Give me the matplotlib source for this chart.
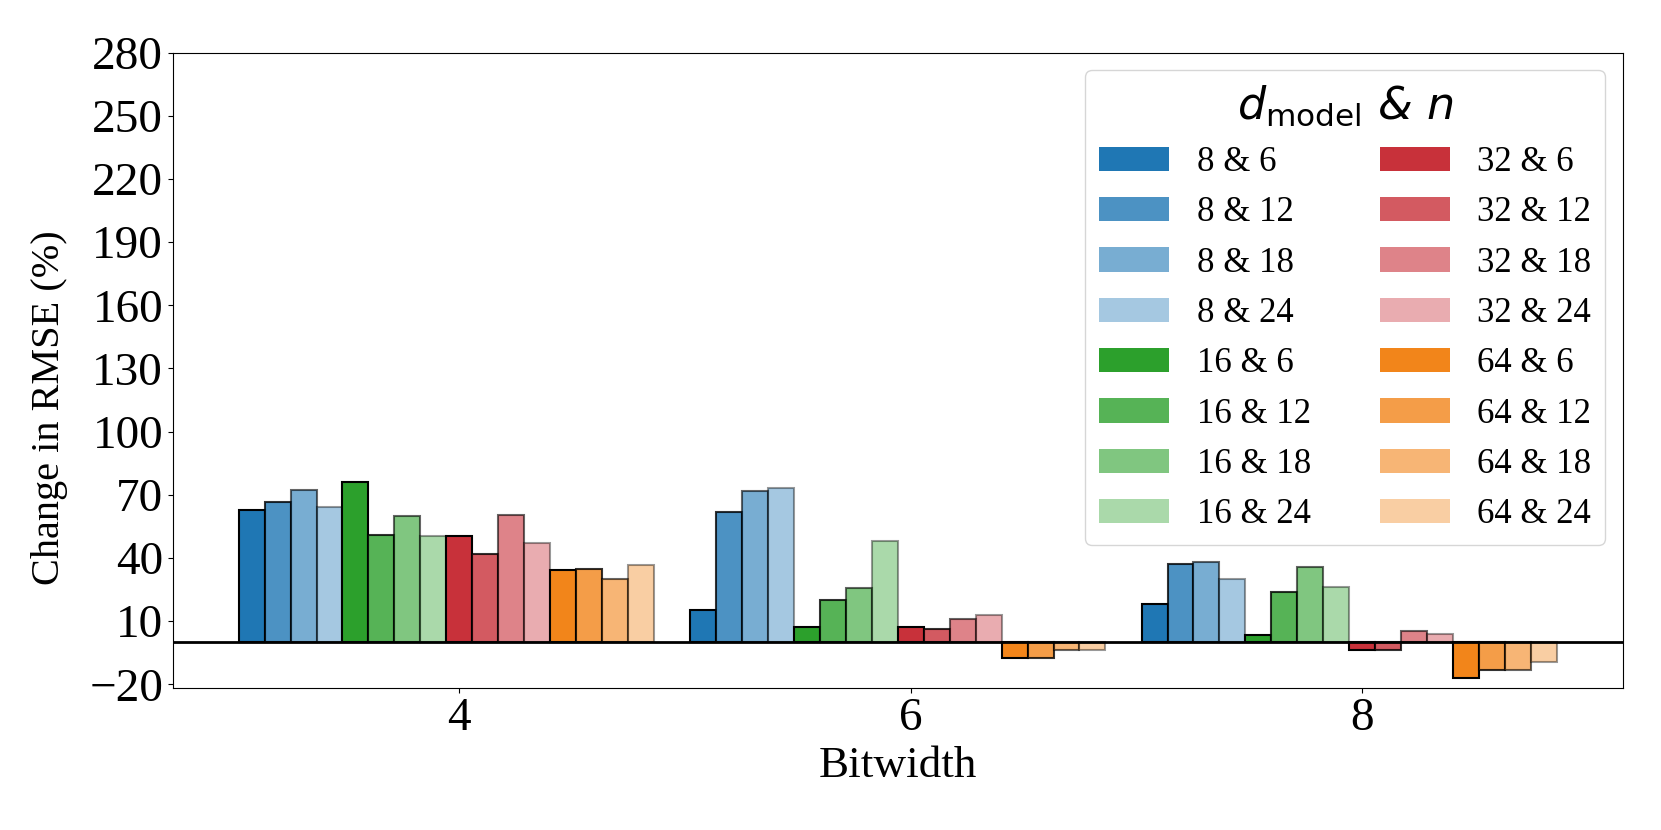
import numpy as np
import matplotlib
matplotlib.use('Agg')
import matplotlib.pyplot as plt
from matplotlib.patches import Patch

plt.rcParams['font.family'] = ['Liberation Serif', 'DejaVu Sans']
plt.rcParams['mathtext.fontset'] = 'dejavusans'

# bitwidths on the x axis
bitwidths = [4, 6, 8]
d_models = [8, 16, 32, 64]
n_values = [6, 12, 18, 24]

# change in RMSE (%) per d_model: rows = n (6, 12, 18, 24), columns = bitwidth (4, 6, 8)
change_d8 = [[63.0, 15.5, 18.2], [66.4, 61.6, 37.1], [72.4, 72.0, 38.2], [64.1, 73.0, 30.2]]
change_d16 = [[76.0, 7.1, 3.5], [50.7, 20.2, 24.0], [59.7, 25.6, 35.9], [50.4, 47.9, 26.4]]
change_d32 = [[50.5, 7.4, -3.5], [41.7, 6.3, -3.5], [60.5, 11.1, 5.5], [47.1, 13.1, 3.9]]
change_d64 = [[34.1, -7.6, -17.1], [34.7, -7.6, -13.4], [30.2, -3.9, -13.1], [36.5, -3.9, -9.3]]

base_colors = ['#1f77b4', '#2ca02c', '#c8313a', '#f2851a']
alphas = [1.0, 0.8, 0.6, 0.4]

fig, ax = plt.subplots(figsize=(16.61, 8.3), dpi=100)
fig.subplots_adjust(left=0.104, right=0.977, top=0.9365, bottom=0.171)

x = np.array(bitwidths, dtype=float)
width = 0.115
handles = []
i = 0
for changes, color, d in zip([change_d8, change_d16, change_d32, change_d64], base_colors, d_models):
    for vals, a, n in zip(changes, alphas, n_values):
        ax.bar(x + (i - 8) * width, vals, width, color=color, alpha=a,
               edgecolor='black', linewidth=1.5)
        handles.append(Patch(facecolor=color, alpha=a, label=f'{d} & {n}'))
        i += 1

ax.axhline(0, color='black', linewidth=2)

ax.set_ylim(-21.8, 280)
ax.set_yticks(np.arange(-20, 281, 30))
ax.set_xticks(bitwidths)
ax.tick_params(labelsize=34)
ax.set_xlabel('Bitwidth', fontsize=32.5)
ax.set_ylabel('Change in RMSE (%)', fontsize=29)
ax.yaxis.set_label_coords(-0.072, 0.442)

ax.legend(handles=handles, ncol=2, loc='upper right', fontsize=25,
          title=r'$d_{\mathrm{model}}$ & $n$',
          title_fontproperties={'family': 'DejaVu Sans', 'size': 32, 'style': 'italic'})

plt.savefig('out.png', dpi=100)
